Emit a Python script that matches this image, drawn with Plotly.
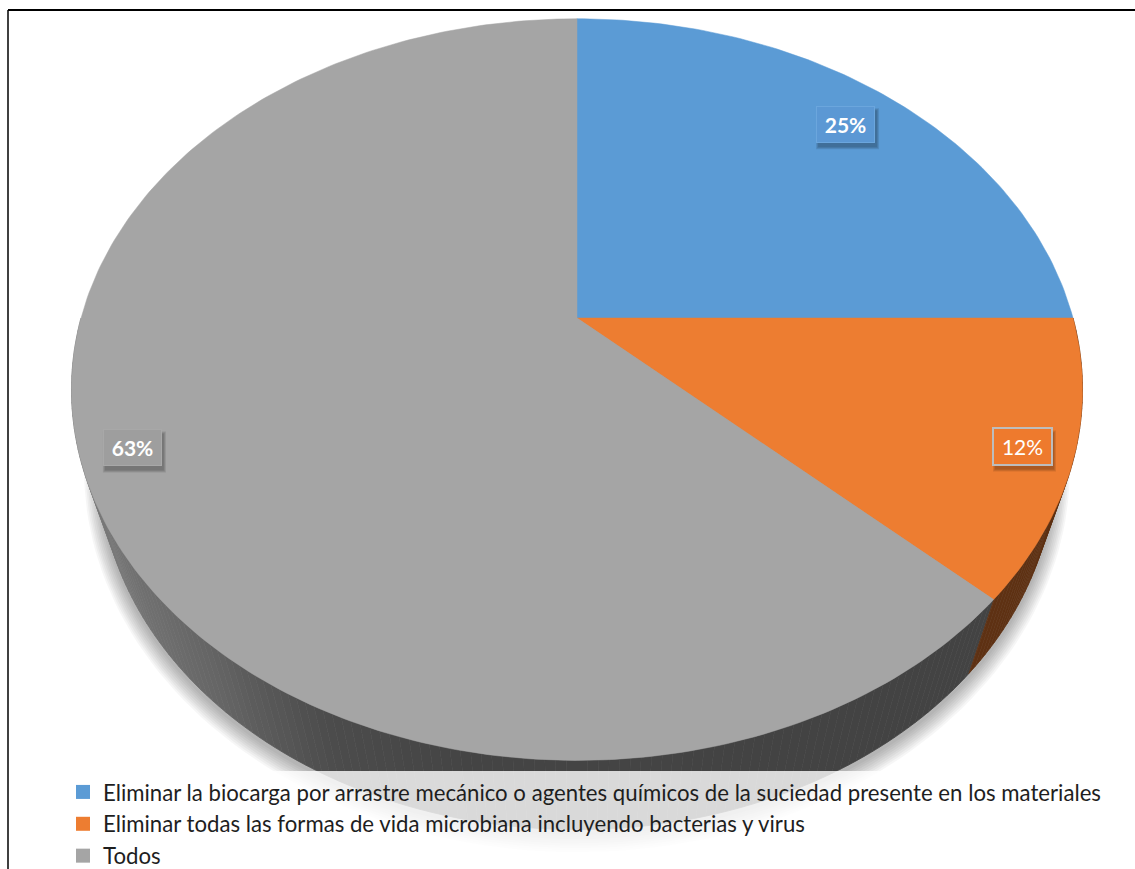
import numpy as np
import plotly.graph_objects as go

# ---- data -------------------------------------------------------------
categories = [
    "Eliminar la biocarga por arrastre mecánico o agentes químicos de la suciedad presente en los materiales",
    "Eliminar todas las formas de vida microbiana incluyendo bacterias y virus",
    "Todos",
]
percentages = [25, 12, 63]

# ---- styling ----------------------------------------------------------
top_colors = ["#5b9bd5", "#ed7d31", "#a5a5a5"]
label_bg = ["#5b98d4", "#ee7a2d", "#9e9e9e"]
label_border = ["#6ba6dd", "#bdbdbd", "#a8a8a8"]
label_bold = [True, False, True]
label_radius = [0.855, 0.905, 0.904]
label_turn = [0.0, -0.3, -1.3]   # degrees added to the slice mid-angle
FONT = "Lato"

W, H = 1135, 869

# tilted-disc projection (screen pixels)
CX, CY = 577.0, 318.0          # projected centre of the top face
RX, RY, K = 496.0, 357.0, 0.193  # radii and perspective factor
VPX, VPY, DEPTH = 577.0, 1831.0, 0.0558  # vanishing point of the vertical edges


def top_pt(theta, r=1.0):
    w = 1 + K * r * np.sin(theta)
    return CX + RX * r * np.cos(theta) / w, CY - RY * r * np.sin(theta) / w


def bottom_pt(theta):
    w = 1 + K * np.sin(theta)
    u = CX * w + RX * np.cos(theta) + VPX * DEPTH
    v = CY * w - RY * np.sin(theta) + VPY * DEPTH
    ww = w + DEPTH
    return u / ww, v / ww


# slice angles: start at 12 o'clock, clockwise
total = sum(percentages)
bounds = [np.pi / 2]
for p in percentages:
    bounds.append(bounds[-1] - 2 * np.pi * p / total)

fig = go.Figure()

# soft drop shadow under the disc
th_all = np.linspace(0, 2 * np.pi, 241)
bu, bv = bottom_pt(th_all)
mu, mv = bu.mean(), bv.mean()
for i in range(1, 10):
    f = 1 + 0.0035 * i
    fig.add_trace(go.Scatter(
        x=mu + (bu - mu) * f, y=mv + (bv - mv) * (f + 0.002 * i) + 3,
        fill="toself", mode="lines", line=dict(width=0),
        fillcolor="rgba(0,0,0,0.035)", hoverinfo="skip", showlegend=False))


def gray_wall(deg):
    xs = [-180, -150, -130, -115, -100, -60]
    ys = [0x86, 0x78, 0x66, 0x4c, 0x44, 0x43]
    g = int(round(np.interp(deg, xs, ys)))
    return f"rgb({g},{g},{g})"


def wall_color(theta):
    # which slice owns this angle
    for i in range(len(percentages)):
        hi, lo = bounds[i], bounds[i + 1]
        t = theta
        while t > hi:
            t -= 2 * np.pi
        while t < lo:
            t += 2 * np.pi
        if lo <= t <= hi:
            if i == 0:
                return "#2f5f8f"
            if i == 1:
                return "#5e3113"
            return gray_wall(np.degrees(theta))
    return "#444444"


# visible side wall (front half of the disc)
edges = np.linspace(-np.pi, 0, 181)
# make sure slice boundaries fall on segment edges
edges = np.unique(np.concatenate([edges, [b for b in
                  [((bb + np.pi) % (2 * np.pi)) - np.pi for bb in bounds]
                  if -np.pi <= b <= 0]]))
for a0, a1 in zip(edges[:-1], edges[1:]):
    seg = np.linspace(a0, a1, 3)
    tu, tv = top_pt(seg)
    lu, lv = bottom_pt(seg[::-1])
    col = wall_color((a0 + a1) / 2)
    fig.add_trace(go.Scatter(
        x=np.concatenate([tu, lu]), y=np.concatenate([tv, lv]),
        fill="toself", mode="lines", line=dict(width=0.8, color=col),
        fillcolor=col, hoverinfo="skip", showlegend=False))

# top face slices
for i, p in enumerate(percentages):
    n = max(8, int(p * 4))
    seg = np.linspace(bounds[i], bounds[i + 1], n)
    tu, tv = top_pt(seg)
    fig.add_trace(go.Scatter(
        x=np.concatenate([[CX], tu, [CX]]), y=np.concatenate([[CY], tv, [CY]]),
        fill="toself", mode="lines", line=dict(width=0.5, color=top_colors[i]),
        fillcolor=top_colors[i], hoverinfo="skip", showlegend=False))

# legend entries
for i, name in enumerate(categories):
    fig.add_trace(go.Scatter(
        x=[None], y=[None], mode="markers", name=name,
        marker=dict(symbol="square", size=14, color=top_colors[i])))

# data labels
BOX_W, BOX_H = 59, 37
for i, p in enumerate(percentages):
    mid = (bounds[i] + bounds[i + 1]) / 2 + np.radians(label_turn[i])
    lx, ly = top_pt(mid, label_radius[i])
    txt = f"<b>{p}%</b>" if label_bold[i] else f"{p}%"
    # soft shadow behind the label box
    for j, a in enumerate([0.10, 0.10, 0.10]):
        d = 1 + j
        fig.add_shape(type="rect", xref="x", yref="y",
                      x0=lx - BOX_W / 2 + 1 - d + 2, x1=lx + BOX_W / 2 + d + 1,
                      y0=ly - BOX_H / 2 + 3 - d + 2, y1=ly + BOX_H / 2 + 3 + d,
                      line=dict(width=0), fillcolor=f"rgba(0,0,0,{a})",
                      layer="above")
    fig.add_annotation(
        x=lx, y=ly, xref="x", yref="y", text=txt, showarrow=False,
        font=dict(family=FONT, size=21, color="white"),
        bgcolor=label_bg[i], width=BOX_W - 4, height=BOX_H - 4,
        borderpad=1, borderwidth=2 if i == 1 else 1,
        bordercolor=label_border[i])

# frame lines
fig.add_shape(type="line", xref="x", yref="y", x0=8, x1=W, y0=10, y1=10,
              line=dict(color="black", width=2))
fig.add_shape(type="line", xref="x", yref="y", x0=8, x1=8, y0=10, y1=H,
              line=dict(color="black", width=1.5))

fig.update_layout(
    width=W, height=H,
    margin=dict(l=0, r=0, t=0, b=0, autoexpand=False),
    paper_bgcolor="white", plot_bgcolor="white",
    xaxis=dict(range=[0, W], visible=False, fixedrange=True),
    yaxis=dict(range=[H, 0], visible=False, fixedrange=True),
    showlegend=True,
    legend=dict(
        x=63 / W, y=1 - 771 / H, xanchor="left", yanchor="top",
        font=dict(family=FONT, size=22.2, color="#1e1e1e"),
        bgcolor="rgba(255,255,255,0.80)", borderwidth=0,
        itemsizing="trace", tracegroupgap=0),
    hovermode=False,
)

fig.write_html("out.html")
